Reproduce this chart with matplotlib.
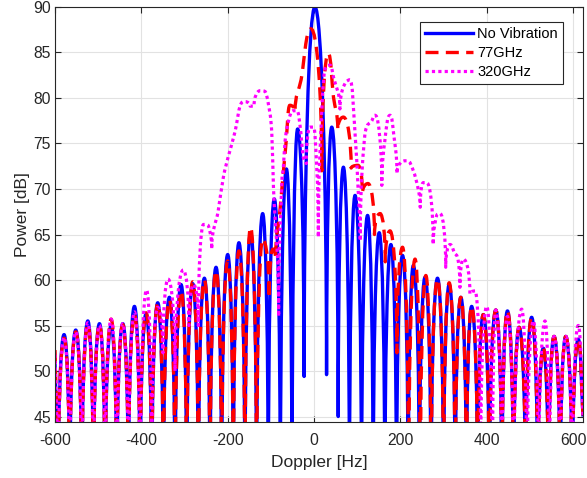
import numpy as np
import matplotlib
matplotlib.use("Agg")
import matplotlib.pyplot as plt
from matplotlib.path import Path
from matplotlib.patches import PathPatch
from matplotlib.lines import Line2D

# key points: lobe tops and the dips between them
# (dips that fall below the axis floor are given as 35 dB)
novib_hz = [-600, -593, -579, -566, -552, -538, -524, -511, -497, -484,
            -470, -457, -443, -430, -416, -403, -389, -376, -362, -349,
            -335, -322, -308, -295, -281, -268, -254, -241, -227, -214,
            -200, -187, -174, -160, -147, -133, -119, -106, -92, -78,
            -64, -51, -38, -23, 2, 29, 41, 56, 68, 82,
            95, 110, 124, 137, 151, 164, 178, 191, 205, 218,
            230, 244, 257, 271, 286, 300, 313, 327, 340, 353,
            365, 379, 392, 406, 421, 435, 448, 462, 475, 490,
            504, 518, 531, 543, 556, 570, 583, 598, 612, 623]
novib_db = [50.8, 35, 54.0, 35, 54.5, 35, 55.5, 35, 55.2, 35,
            55.0, 35, 55.2, 35, 57.1, 35, 56.3, 35, 57.5, 35,
            58.1, 35, 59.5, 35, 59.6, 35, 60.2, 35, 61.4, 35,
            62.8, 35, 64.1, 35, 65.2, 35, 67.3, 35, 68.9, 35,
            72.2, 35, 76.6, 49.4, 90.0, 49.6, 76.8, 45.0, 72.4, 35,
            69.3, 35, 67.1, 35, 65.2, 35, 63.9, 35, 62.7, 35,
            61.6, 35, 60.3, 35, 60.2, 35, 59.5, 35, 58.1, 35,
            57.1, 35, 56.2, 35, 56.7, 35, 56.6, 35, 54.8, 35,
            55.9, 35, 52.5, 35, 53.8, 35, 53.8, 35, 53.5, 45.0]

ghz77_hz = [-600, -593, -579, -566, -552, -538, -524, -511, -497, -484,
            -470, -457, -443, -430, -416, -403, -389, -376, -362, -349,
            -335, -322, -308, -295, -281, -268, -254, -241, -227, -214,
            -200, -187, -174, -160, -147, -133, -119, -104, -95, -89,
            -79, -65, -56, -44, -30, -7, 18, 33, 45, 55,
            68, 86, 102, 112, 125, 140, 153, 165, 176, 192,
            205, 219, 234, 246, 259, 271, 286, 300, 313, 327,
            340, 353, 365, 379, 392, 406, 421, 435, 448, 462,
            475, 490, 504, 518, 531, 543, 556, 570, 583, 598,
            612, 623]
ghz77_db = [52.3, 35, 53.6, 35, 54.3, 35, 55.1, 35, 55.1, 35,
            55.7, 35, 55.1, 35, 56.2, 35, 56.4, 35, 57.4, 35,
            57.8, 35, 58.8, 35, 59.8, 35, 60.0, 35, 61.0, 35,
            62.1, 35, 63.2, 35, 65.8, 35, 64.5, 58.0, 63.4, 62.3,
            67.6, 75.0, 79.2, 78.5, 82.0, 87.6, 72.0, 84.9, 80.1, 76.5,
            77.9, 72.3, 72.6, 69.5, 70.6, 65.0, 67.3, 62.0, 65.4, 52.0,
            63.6, 35, 62.3, 35, 60.5, 35, 60.1, 35, 59.7, 35,
            58.1, 35, 57.1, 35, 56.2, 35, 56.7, 35, 56.6, 35,
            54.8, 35, 55.9, 35, 52.5, 35, 53.8, 35, 53.8, 35,
            53.5, 45.0]

ghz320_hz = [-600, -593, -579, -566, -552, -538, -524, -511, -497, -484,
             -470, -457, -443, -430, -416, -403, -388, -376, -362, -350,
             -338, -322, -303, -290, -279, -268, -256, -245, -237, -222,
             -210, -199, -183, -171, -160, -148, -139, -125, -113, -106,
             -98, -94, -82, -75, -71, -67, -59, -48, -40, -32,
             -25, -18, -9, -3, 2, 10, 18, 25, 37, 45,
             60, 83, 95, 103, 107, 118, 134, 141, 153, 157,
             164, 176, 185, 192, 199, 215, 230, 242, 246, 253,
             261, 276, 284, 292, 305, 315, 325, 334, 338, 346,
             361, 373, 386, 400, 413, 421, 435, 448, 462, 481,
             493, 508, 520, 535, 545, 556, 570, 583, 598, 612,
             623]
ghz320_db = [51.8, 35, 53.7, 35, 54.3, 35, 55.3, 35, 55.0, 35,
             55.7, 35, 55.2, 35, 56.5, 35, 58.9, 40, 57.0, 52,
             60.1, 50, 61.1, 55, 59.5, 55, 66.1, 66.0, 63.4, 67.6,
             71.3, 73.5, 76.3, 79.2, 79.6, 79.1, 79.1, 80.8, 80.7, 79.4,
             76.3, 70.2, 56.0, 70.2, 72.4, 75.3, 77.5, 78.6, 78.6, 76.8,
             73.5, 72.8, 76.8, 76.8, 76.1, 64.7, 78.6, 83.1, 83.6, 82.3,
             78.8, 82.0, 76.1, 69.1, 64.3, 76.1, 77.5, 78.1, 75.3, 70.4,
             75.3, 78.1, 75.8, 71.7, 72.8, 73.1, 72.0, 69.8, 68.0, 70.7,
             70.7, 63.9, 67.1, 67.3, 61.4, 63.9, 63.0, 62.1, 59.2, 62.3,
             58.5, 58.8, 40, 57.1, 35, 56.7, 35, 56.0, 35, 56.8,
             35, 55.5, 35, 55.5, 35, 53.8, 35, 53.8, 35, 55.0,
             45.0]

series_names = ["No Vibration", "77GHz", "320GHz"]
x_ticks = [-600, -400, -200, 0, 200, 400, 600]
y_ticks = [45, 50, 55, 60, 65, 70, 75, 80, 85, 90]


def lobe_path(hz, db):
    # smooth curve through the read points: flat at tops, steep at dips
    x = np.asarray(hz, float)
    y = np.asarray(db, float)
    n = len(x)
    kind = []
    slope = np.zeros(n)
    for i in range(n):
        if 0 < i < n - 1 and y[i] >= y[i - 1] and y[i] >= y[i + 1]:
            kind.append("top")
        elif 0 < i < n - 1 and y[i] <= y[i - 1] and y[i] <= y[i + 1]:
            kind.append("dip")
        else:
            kind.append("side")
            a, b = max(i - 1, 0), min(i + 1, n - 1)
            slope[i] = (y[b] - y[a]) / (x[b] - x[a])

    verts = [(x[0], y[0])]
    codes = [Path.MOVETO]
    k = 0.55
    for i in range(n - 1):
        dx = x[i + 1] - x[i]
        dy = y[i + 1] - y[i]
        lo, hi = min(y[i], y[i + 1]), max(y[i], y[i + 1])
        ctrl = []
        for j, sgn in ((i, 1), (i + 1, -1)):
            if kind[j] == "top":
                c = (x[j] + sgn * k * dx, y[j])
            elif kind[j] == "dip":
                c = (x[j], y[j] + sgn * k * dy)
            else:
                c = (x[j] + sgn * dx / 3, y[j] + sgn * dx / 3 * slope[j])
            ctrl.append((c[0], min(max(c[1], lo), hi)))
        verts += [ctrl[0], ctrl[1], (x[i + 1], y[i + 1])]
        codes += [Path.CURVE4] * 3
    return Path(verts, codes)


plt.rcParams["font.family"] = ["Liberation Sans", "DejaVu Sans"]
plt.rcParams["axes.unicode_minus"] = False

fig = plt.figure(figsize=(5.87, 4.78), dpi=100)
ax = fig.add_axes([0.0937, 0.1172, 0.8995, 0.8682])

styles = [
    dict(color=(0, 0, 1), lw=2.4, ls="-"),
    dict(color=(1, 0, 0), lw=2.4, ls=(0, (3.9, 2.2))),
    dict(color=(1, 0, 1), lw=2.3, ls=(0, (1.0, 1.0))),
]
curves = [(novib_hz, novib_db), (ghz77_hz, ghz77_db), (ghz320_hz, ghz320_db)]

handles = []
for (hz, db), st, name in zip(curves, styles, series_names):
    patch = PathPatch(lobe_path(hz, db), fill=False, edgecolor=st["color"],
                      lw=st["lw"], ls=st["ls"], capstyle="butt",
                      joinstyle="round")
    ax.add_patch(patch)
    handles.append(Line2D([], [], color=st["color"], lw=st["lw"],
                          ls=st["ls"], dash_capstyle="butt", label=name))

ax.set_xlim(-600, 623)
ax.set_ylim(44.4, 90)
ax.set_xticks(x_ticks)
ax.set_yticks(y_ticks)

dark = (0.15, 0.15, 0.15)
ax.grid(True, color="#e2e2e2", lw=0.8)
ax.set_axisbelow(True)
for s in ax.spines.values():
    s.set_color(dark)
    s.set_linewidth(0.8)
ax.tick_params(direction="in", length=4, width=0.8, color=dark,
               labelcolor=dark, labelsize=11.3, top=True, right=True)
ax.tick_params(axis="x", pad=8)
ax.tick_params(axis="y", pad=3)

ax.set_xlabel("Doppler [Hz]", fontsize=12.5, color=dark, labelpad=5)
ax.set_ylabel("Power [dB]", fontsize=12.5, color=dark, labelpad=2)

leg = ax.legend(handles=handles, loc="upper right",
                bbox_to_anchor=(0.962, 0.964), borderaxespad=0,
                fontsize=10.5, handlelength=3.3, handletextpad=0.3,
                labelspacing=0.35, borderpad=0.35, fancybox=False,
                framealpha=1, edgecolor=dark)
leg.get_frame().set_linewidth(0.8)

fig.savefig("out.png", dpi=100)
